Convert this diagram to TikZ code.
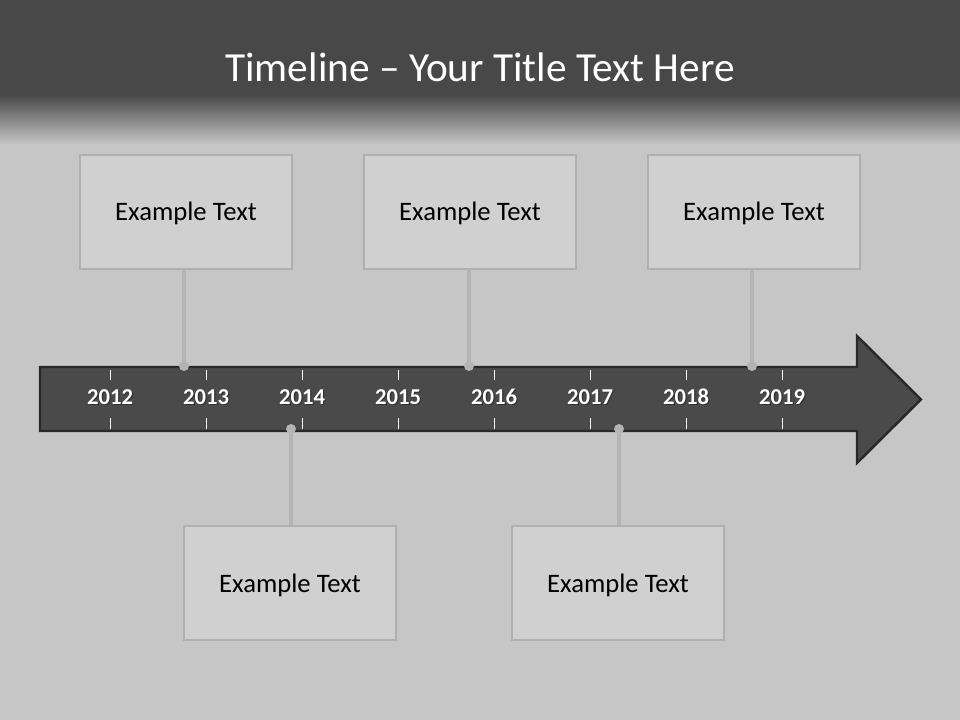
\documentclass[tikz,border=0pt]{standalone}
\usepackage{fontspec}
\setmainfont{Carlito}
\usetikzlibrary{shadings}
\definecolor{hdr}{HTML}{484848}
\definecolor{bg}{HTML}{C6C6C6}
\definecolor{boxfill}{HTML}{D0D0D0}
\definecolor{boxline}{HTML}{B0B0B0}
\definecolor{arrfill}{HTML}{4A4A4A}
\definecolor{arrline}{HTML}{282828}
\definecolor{conn}{HTML}{B4B4B4}
\tikzset{
  textbox/.style={draw=boxline, line width=2pt, fill=boxfill, minimum width=159pt, minimum height=85.5pt, inner sep=0pt, text height=13.5pt, text depth=0pt, font=\fontsize{20}{24}\selectfont, text=black},
  connline/.style={draw=conn, line width=3pt},
  dotmark/.style={circle, fill=conn, inner sep=0pt, minimum size=7.5pt},
  yearlabel/.style={anchor=base, text=white, font=\bfseries\fontsize{17}{20}\selectfont},
  yearshadow/.style={anchor=base, text=black!80, font=\bfseries\fontsize{17}{20}\selectfont},
  tick/.style={draw=white, line width=0.6pt}
}
\begin{document}
\begin{tikzpicture}[x=0.75pt,y=-0.75pt]
\useasboundingbox (0,0) rectangle (960,720);
% background
\fill[bg] (0,0) rectangle (960,720);
\fill[hdr] (0,0) rectangle (960,95);
\shade[top color=hdr, bottom color=bg!95!white] (0,94.5) rectangle (960,146);
\node[text=white, font=\fontsize{31}{37}\selectfont] (title) at (480,67) {Timeline – Your Title Text Here};
% arrow
\draw[fill=arrfill, draw=arrline, line width=1.8pt, line join=miter]
  (40,367) -- (857,367) -- (857,336) -- (921,399.5) -- (857,463) -- (857,431) -- (40,431) -- cycle;
% ticks and years
\foreach \i/\x in {2012/110,2013/206,2014/302,2015/398,2016/494,2017/590,2018/686,2019/782}{
  \draw[tick] (\x,369.5) -- (\x,380);
  \draw[tick] (\x,418) -- (\x,429);
  \node[yearshadow] at (\x+1.3,405.3) {\i};
  \node[yearlabel] (y\i) at (\x,404) {\i};
}
% boxes
\node[textbox] (b1) at (186,212) {Example Text};
\node[textbox] (b2) at (470,212) {Example Text};
\node[textbox] (b3) at (754,212) {Example Text};
\node[textbox] (b4) at (290,583) {Example Text};
\node[textbox] (b5) at (618,583) {Example Text};
% dots
\node[dotmark] (d1) at (184,366) {};
\node[dotmark] (d2) at (469,366) {};
\node[dotmark] (d3) at (752,366) {};
\node[dotmark] (d4) at (291,429) {};
\node[dotmark] (d5) at (619,429) {};
% connectors
\draw[connline] (d1.center) -- (d1.center |- b1.south);
\draw[connline] (d2.center) -- (d2.center |- b2.south);
\draw[connline] (d3.center) -- (d3.center |- b3.south);
\draw[connline] (d4.center) -- (d4.center |- b4.north);
\draw[connline] (d5.center) -- (d5.center |- b5.north);
\end{tikzpicture}
\end{document}
